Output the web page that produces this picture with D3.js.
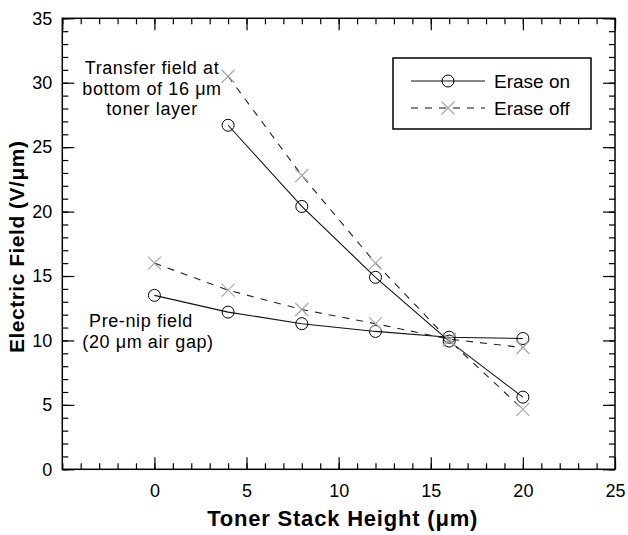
<!DOCTYPE html>
<html><head><meta charset="utf-8">
<script src="https://cdn.jsdelivr.net/npm/d3@7"></script>
<style>
html,body{margin:0;padding:0;background:#fff;}
svg{display:block;font-family:"Liberation Sans",Arial,Helvetica,sans-serif;}
</style></head>
<body>
<svg id="chart" width="628" height="535"></svg>
<script>
// ---- data ----
const seriesNames = ["Erase on", "Erase off"];
const transferX = [4, 8, 12, 16, 20];
const transferOn = [26.7, 20.4, 14.9, 9.95, 5.6];
const transferOff = [30.5, 22.8, 16.0, 10.0, 4.65];
const prenipX = [0, 4, 8, 12, 16, 20];
const prenipOn = [13.5, 12.2, 11.3, 10.7, 10.25, 10.15];
const prenipOff = [16.0, 13.9, 12.4, 11.3, 10.1, 9.45];
const xTicks = [0, 5, 10, 15, 20, 25];
const yTicks = [0, 5, 10, 15, 20, 25, 30, 35];

const FONT = "'Liberation Sans',Arial,Helvetica,sans-serif";
const svg = d3.select("#chart");
const L = 62.3, R = 615, T = 18.3, B = 469.3;
const x = d3.scaleLinear().domain([-5, 25]).range([L, R]);
const y = d3.scaleLinear().domain([0, 35]).range([B, T]);

const minorX = d3.range(-5, 26, 1), minorY = d3.range(0, 36, 1);

function axisStyle(g){ g.select(".domain").remove(); g.selectAll("line").attr("stroke","#000").attr("stroke-width",1.2); }

// minor ticks
svg.append("g").attr("transform",`translate(0,${B})`).call(d3.axisBottom(x).tickValues(minorX).tickSize(-6).tickFormat("")).call(axisStyle);
svg.append("g").attr("transform",`translate(0,${T})`).call(d3.axisTop(x).tickValues(minorX).tickSize(-6).tickFormat("")).call(axisStyle);
svg.append("g").attr("transform",`translate(${L},0)`).call(d3.axisLeft(y).tickValues(minorY).tickSize(-6).tickFormat("")).call(axisStyle);
svg.append("g").attr("transform",`translate(${R},0)`).call(d3.axisRight(y).tickValues(minorY).tickSize(-6).tickFormat("")).call(axisStyle);
// major ticks
const gx = svg.append("g").attr("transform",`translate(0,${B})`).call(d3.axisBottom(x).tickValues(xTicks).tickSize(-12).tickPadding(15)).call(axisStyle);
svg.append("g").attr("transform",`translate(0,${T})`).call(d3.axisTop(x).tickValues(d3.range(-5,26,5)).tickSize(-12).tickFormat("")).call(axisStyle);
const gy = svg.append("g").attr("transform",`translate(${L},0)`).call(d3.axisLeft(y).tickValues(yTicks).tickSize(-12).tickPadding(10)).call(axisStyle);
svg.append("g").attr("transform",`translate(${R},0)`).call(d3.axisRight(y).tickValues(yTicks).tickSize(-12).tickFormat("")).call(axisStyle);
[gx, gy].forEach(g => { g.attr("font-family", FONT); g.selectAll("text").attr("font-size",18).attr("font-family",FONT).attr("fill","#000"); });

// frame
svg.append("rect").attr("x",L).attr("y",T).attr("width",R-L).attr("height",B-T).attr("fill","none").attr("stroke","#000").attr("stroke-width",1.5);

// lines
const line = d3.line().x(d=>x(d[0])).y(d=>y(d[1]));
const zip = (xs, ys) => xs.map((v,i)=>[v, ys[i]]);
const sets = [
  {pts: zip(transferX, transferOn), on:true},
  {pts: zip(prenipX, prenipOn), on:true},
  {pts: zip(transferX, transferOff), on:false},
  {pts: zip(prenipX, prenipOff), on:false}
];
sets.forEach(s=>{
  svg.append("path").attr("d", line(s.pts)).attr("fill","none").attr("stroke", s.on ? "#111" : "#222")
    .attr("stroke-width",1.1).attr("stroke-dasharray", s.on ? null : "7,7");
});
function drawCircle(g, cx, cy){ g.append("circle").attr("cx",cx).attr("cy",cy).attr("r",6).attr("fill","none").attr("stroke","#000").attr("stroke-width",1); }
function drawX(g, cx, cy){ const s=6.5; g.append("path").attr("d",`M${cx-s},${cy-s}L${cx+s},${cy+s}M${cx-s},${cy+s}L${cx+s},${cy-s}`).attr("stroke","#a8a8a8").attr("stroke-width",1.2).attr("fill","none"); }
sets.forEach(s=>{
  s.pts.forEach(p=>{ if(s.on) drawCircle(svg, x(p[0]), y(p[1])); else drawX(svg, x(p[0]), y(p[1])); });
});

// axis titles
svg.append("text").attr("x",(L+R)/2+4).attr("y",526).attr("text-anchor","middle").attr("font-family",FONT).attr("font-weight","bold").attr("font-size",22).attr("letter-spacing",0.8).text("Toner Stack Height (μm)");
svg.append("text").attr("transform",`translate(24,${(T+B)/2+3}) rotate(-90)`).attr("text-anchor","middle").attr("font-family",FONT).attr("font-weight","bold").attr("font-size",21).attr("letter-spacing",0.5).text("Electric Field (V/μm)");

// annotations
const ann = svg.append("g").attr("font-size",18).attr("letter-spacing",0.6).attr("font-family",FONT).attr("text-anchor","middle");
ann.append("text").attr("x",152).attr("y",74).text("Transfer field at");
ann.append("text").attr("x",152).attr("y",94.5).text("bottom of 16 μm");
ann.append("text").attr("x",152).attr("y",115).text("toner layer");
ann.append("text").attr("x",141).attr("y",327).text("Pre-nip field");
ann.append("text").attr("x",148).attr("y",347.5).text("(20 μm air gap)");

// legend
const lg = svg.append("g").attr("font-family",FONT);
lg.append("rect").attr("x",393).attr("y",58).attr("width",198).attr("height",71).attr("fill","#fff").attr("stroke","#000").attr("stroke-width",1.5);
seriesNames.forEach((n,i)=>{
  const ly = 81 + i*27;
  lg.append("line").attr("x1",411).attr("x2",485).attr("y1",ly).attr("y2",ly).attr("stroke","#111").attr("stroke-width",1.1).attr("stroke-dasharray", i===0 ? null : "7,7");
  if(i===0) drawCircle(lg, 448, ly); else drawX(lg, 448, ly);
  lg.append("text").attr("x",494).attr("y",ly+7).attr("font-size",19).text(n);
});
</script>
</body></html>
